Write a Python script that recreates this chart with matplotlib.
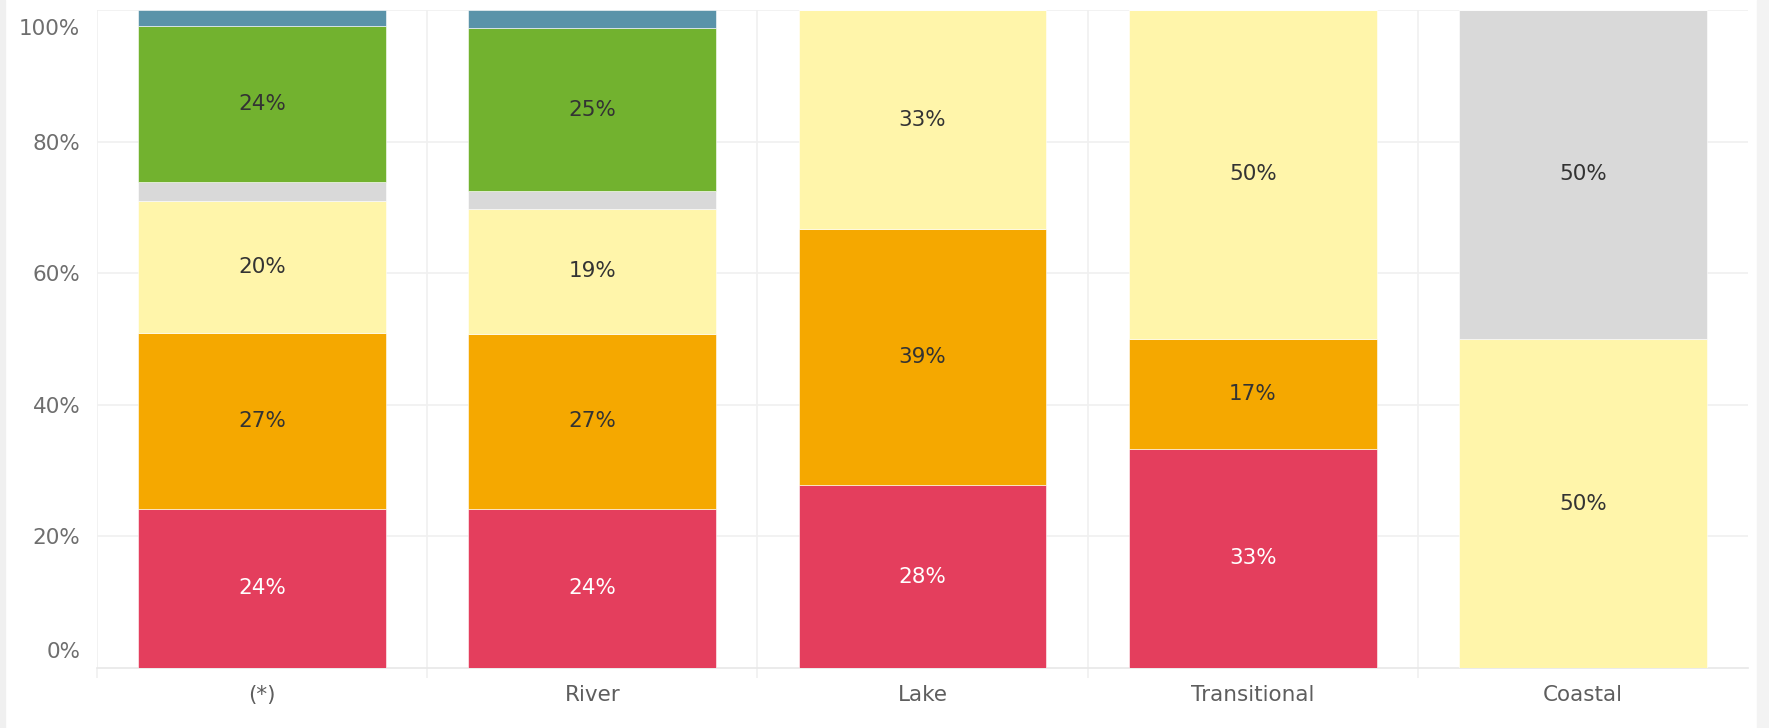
import matplotlib
matplotlib.use("Agg")
import matplotlib.pyplot as plt
from matplotlib.patches import Rectangle
from matplotlib.transforms import ScaledTranslation
import numpy as np

categories = ["(*)", "River", "Lake", "Transitional", "Coastal"]
red = [24.2, 24.2, 27.8, 33.3, 0.0]
orange = [26.7, 26.6, 38.9, 16.7, 0.0]
yellow = [20.1, 19.0, 33.3, 50.0, 50.0]
gray = [2.8, 2.7, 0.0, 0.0, 50.0]
green = [23.8, 24.7, 0.0, 0.0, 0.0]
blue = [2.4, 2.8, 0.0, 0.0, 0.0]
yticks = [0, 20, 40, 60, 80, 100]
ytick_labels = ["0%", "20%", "40%", "60%", "80%", "100%"]

series = [
    (red, "#E43E5D", "white"),
    (orange, "#F5A800", "#333333"),
    (yellow, "#FFF5AA", "#333333"),
    (gray, "#D9D9D9", "#333333"),
    (green, "#72B22F", "#333333"),
    (blue, "#5A93A9", "#333333"),
]

plt.rcParams['font.family'] = ['DejaVu Sans']
fig = plt.figure(figsize=(17.69, 7.28), dpi=100)
fig.patches.append(Rectangle((0, 0), 5 / 1769, 1, transform=fig.transFigure,
                             color="#F0F0F0", zorder=0))
fig.patches.append(Rectangle((1757 / 1769, 0), 12 / 1769, 1, transform=fig.transFigure,
                             color="#F3F3F3", zorder=0))

ax = fig.add_axes([97 / 1769, 1 - 668 / 728, (1748 - 97) / 1769, (668 - 10) / 728])
x = np.arange(len(categories))
bottom = np.zeros(len(categories))
for vals, col, tcol in series:
    v = np.array(vals)
    ax.bar(x, v, bottom=bottom, width=0.75, color=col, edgecolor="white",
           linewidth=0.4, zorder=3)
    for xi, (b, h) in enumerate(zip(bottom, v)):
        if h >= 10:
            ax.text(xi, b + h / 2, f"{round(h):d}%", ha="center", va="center",
                    fontsize=15.5, color=tcol, zorder=4)
    bottom += v

ax.set_xlim(-0.5, len(categories) - 0.5)
ax.set_ylim(0, 100)
ax.set_yticks(yticks)
ax.set_yticklabels(ytick_labels)
ax.set_xticks(x)
ax.set_xticklabels(categories)
ax.set_xticks(np.arange(-0.5, len(categories) - 1, 1.0), minor=True)

for yv in yticks[1:]:
    ax.axhline(yv, color="#F0F0F0", linewidth=1.2, zorder=1)
for xb in np.arange(-0.5, len(categories) - 1, 1.0):
    ax.axvline(xb, color="#F0F0F0", linewidth=1.2, zorder=1)

for s in ["top", "right", "left"]:
    ax.spines[s].set_visible(False)
ax.spines["bottom"].set_color("#E8E8E8")
ax.spines["bottom"].set_linewidth(1.2)

ax.tick_params(axis="y", length=0, pad=12, labelsize=15.5, labelcolor="#6E6E6E")
ax.tick_params(axis="x", which="major", length=0, pad=12, labelsize=15.5,
               labelcolor="#5E5E5E")
ax.tick_params(axis="x", which="minor", length=7, width=1.2, color="#F0F0F0")

# edge labels are nudged inward, as in the reference
ylabels = ax.get_yticklabels()
ylabels[0].set_transform(ylabels[0].get_transform()
                         + ScaledTranslation(0, 18 / 100, fig.dpi_scale_trans))
ylabels[-1].set_transform(ylabels[-1].get_transform()
                          + ScaledTranslation(0, -17 / 100, fig.dpi_scale_trans))

fig.savefig("out.png", dpi=100)
